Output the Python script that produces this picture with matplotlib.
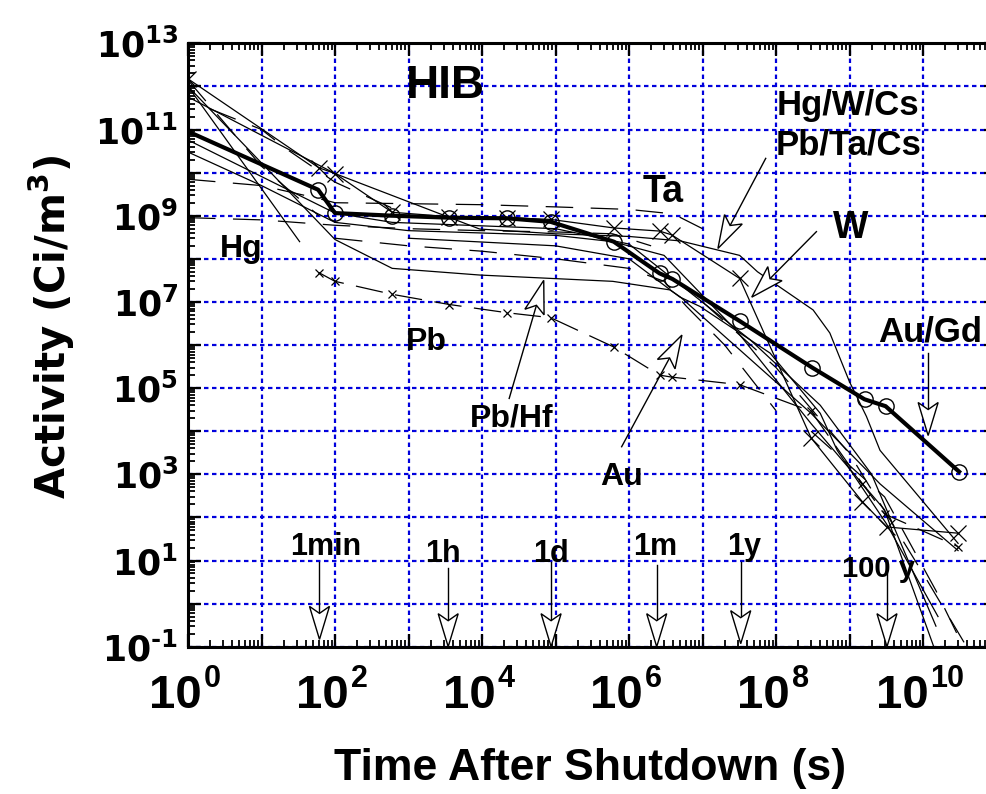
import matplotlib
matplotlib.use('Agg')
import matplotlib.pyplot as plt
from matplotlib.patches import Polygon
from matplotlib.lines import Line2D
import numpy as np

ARIAL = 'Liberation Sans'
HEAVY = 'DejaVu Sans'

plt.rcParams['mathtext.fontset'] = 'custom'
plt.rcParams['mathtext.bf'] = HEAVY + ':bold'
plt.rcParams['mathtext.rm'] = HEAVY + ':bold'

# ---------------- data ----------------
# average curve (thick, open circles)
t_avg = [1, 59, 100, 600, 3600, 2.2e4, 8.6e4, 6.2e5, 2.6e6, 3.9e6, 3.2e7, 3.1e8, 1.6e9, 3.1e9, 3.1e10]
a_avg = [9e10, 4e9, 1.15e9, 1.0e9, 9e8, 8.7e8, 7.2e8, 2.5e8, 4.6e7, 3.4e7, 3.6e6, 3.0e5, 5.5e4, 3.8e4, 1.15e3]

# thin solid curve with large x markers
t_s1 = [1, 60, 100, 600, 3600, 2.2e4, 8.6e4, 6.2e5, 2.6e6, 3.8e6, 3.2e7, 3e8, 1.5e9, 3.2e9, 3e10]
a_s1 = [1.5e12, 1.3e10, 9.5e9, 1.2e9, 9.5e8, 9e8, 8.2e8, 5.2e8, 4.4e8, 3.6e8, 3.5e7, 7e3, 2.3e2, 6e1, 4.3e1]

# Pb curve with small x markers
t_pb = [60, 100, 600, 3600, 2.2e4, 8.6e4, 6.2e5, 2.6e6, 3.8e6, 3.2e7, 3e8, 1.5e9, 3e9, 3e10]
a_pb = [4.8e7, 3e7, 1.5e7, 8.7e6, 5.6e6, 4.3e6, 9e5, 2e5, 1.8e5, 1.2e5, 2.9e4, 6e2, 1.2e2, 2.1e1]

# other thin solid curves
t_s2 = [1, 100, 9.3e3, 1e5, 1e6, 5e6, 3.2e7, 5.6e7, 3.2e8, 5.4e8, 1e9, 1.7e9, 2.6e9, 3e10]
a_s2 = [5.7e11, 9.5e9, 4.9e8, 3.8e8, 3.3e8, 2.6e8, 1.2e8, 5e7, 6.5e6, 1.9e6, 1.4e5, 2.2e4, 3.6e3, 2.5e1]
t_s3 = [1, 33]
a_s3 = [1e12, 2.5e8]
t_s4 = [1, 100, 600, 9.3e3, 6e5, 3.6e6, 5e6, 3e8, 2.6e9, 3e10]
a_s4 = [1e12, 2.8e8, 6e7, 4.2e7, 3e7, 1.9e7, 1.3e7, 2.6e4, 6e2, 1.7e1]
t_s5 = [1, 100, 600, 1e5, 1e6, 5e6, 4.5e7, 4e8, 2e9, 1.5e10]
a_s5 = [5.7e10, 1.15e9, 7e8, 5e8, 2.2e8, 2.5e7, 1.3e6, 4e4, 1e3, 3e-1]
t_s6 = [1e3, 1e5, 1e6, 4.9e6, 9.3e6, 8.3e7, 4e8, 6.8e8, 3.2e9, 1.6e10]
a_s6 = [3e8, 2e8, 1e8, 1.3e7, 7.8e6, 6.5e5, 2.6e4, 3.6e3, 7e1, 5e-1]
t_s7 = [1, 10, 100, 1e3, 1e5, 6e5, 3e6, 3e7, 3e8, 3e9, 1.4e10]
a_s7 = [3e10, 5e9, 7e8, 4.5e8, 3.5e8, 2.5e8, 1.2e8, 2e6, 1.5e4, 1.5e2, 1e-1]

# dashed curves
t_d1 = [1, 10, 60, 100, 1e3, 1e4, 1e5, 1e6, 4e6, 1e7]
a_d1 = [7e9, 5e9, 2.5e9, 2e9, 1.9e9, 1.8e9, 1.6e9, 1.4e9, 1.1e9, 5e8]
t_d2 = [1, 10, 100, 1e3, 1e4, 1e5, 6e5, 2e6]
a_d2 = [9e8, 8e8, 6e8, 5e8, 4.5e8, 4.2e8, 3.8e8, 2e8]
t_d3 = [100, 1e3, 1e4, 1e5, 1e6, 3e6, 6e6, 2e7, 1e8]
a_d3 = [3e8, 2e8, 1.5e8, 1e8, 6e7, 3e7, 8e6, 1e6, 3e4]
t_d4 = [1e7, 1e8, 1e9, 1e10, 5e10]
a_d4 = [1e7, 3e5, 3e3, 5e0, 5e-2]
t_d5 = [3e8, 3e9, 1.5e10, 5e10]
a_d5 = [1e4, 3e2, 2e0, 3e-2]
t_d6 = [1, 10, 60]
a_d6 = [1.4e12, 1.4e10, 1.0e9]
t_d7 = [2, 10, 21, 100, 600]
a_d7 = [3e11, 1e11, 3.7e10, 6e9, 1.5e9]

x_exps = [0, 2, 4, 6, 8, 10]
y_labels = ['$\\mathbf{10^{%s}}$' % (str(e) if e >= 0 else '\u2010' + str(-e))
            for e in [13, 11, 9, 7, 5, 3, 1, -1]]

# text labels (text, t, A, fontsize)
labels = [
    ('HIB', 926, 10**11.72, 33),
    ('Hg', 10**0.435, 10**8.05, 23),
    ('Pb', 10**2.97, 10**5.88, 23),
    ('Ta', 10**6.18, 10**9.32, 27),
    ('Hg/W/Cs', 10**8.01, 10**11.34, 25),
    ('Pb/Ta/Cs', 10**7.99, 10**10.41, 25),
    ('W', 10**8.78, 10**8.48, 27),
    ('Au/Gd', 10**9.39, 10**6.08, 25),
    ('Pb/Hf', 10**3.84, 10**4.12, 23),
    ('Au', 10**5.61, 10**2.75, 23),
    ('1min', 10**1.39, 10**1.13, 22),
    ('1h', 10**3.22, 10**0.965, 22),
    ('1d', 10**4.69, 10**0.965, 22),
    ('1m', 10**6.05, 10**1.13, 22),
    ('1y', 10**7.33, 10**1.13, 22),
    ('100 y', 10**8.90, 10**0.62, 21),
]
# arrows (log10 tail t, tail A, tip t, tip A)
arrows = [
    (1.789, 0.97, 1.789, -0.83),
    (3.54, 0.83, 3.54, -1.0),
    (4.94, 0.96, 4.94, -1.0),
    (6.377, 0.89, 6.377, -1.0),
    (7.52, 0.96, 7.52, -0.93),
    (9.51, 0.72, 9.51, -1.0),
    (10.07, 5.81, 10.07, 3.9),
    (7.86, 10.33, 7.21, 8.24),
    (8.55, 8.63, 7.67, 7.11),
    (4.37, 4.76, 4.84, 7.5),
    (5.90, 3.64, 6.72, 6.23),
]

# ---------------- figure ----------------
W, H = 987, 794
fig = plt.figure(figsize=(W / 100, H / 100), dpi=100)
L, R, T, B = 188, 996.5, 43.3, 646.7
ax = fig.add_axes([L / W, 1 - B / H, (R - L) / W, (B - T) / H])
ax.set_xscale('log')
ax.set_yscale('log')
ax.set_xlim(1, 1e11)
ax.set_ylim(1e-1, 1e13)

thin = 0.9
for t, a in [(t_s3, a_s3), (t_s4, a_s4), (t_s5, a_s5), (t_s6, a_s6), (t_s7, a_s7), (t_s2, a_s2)]:
    ax.plot(t, a, color='black', lw=thin)
ax.plot(t_s1, a_s1, color='black', lw=thin, marker='x', ms=11, mew=0.9)
ax.plot(t_pb, a_pb, color='black', lw=thin, marker='x', ms=5.5, mew=0.9, dashes=(22, 10))
for t, a in [(t_d1, a_d1), (t_d2, a_d2), (t_d3, a_d3), (t_d4, a_d4), (t_d5, a_d5),
             (t_d6, a_d6), (t_d7, a_d7)]:
    ax.plot(t, a, color='black', lw=thin, dashes=(22, 14))

ax.plot(t_avg, a_avg, color='black', lw=3.0, marker='o', ms=11, mfc='none',
        mew=1.0, markevery=list(range(1, len(t_avg))), solid_joinstyle='round')

# grid
ax.grid(True, which='major', color='#0000dd', linestyle=(0, (2.0, 1.6)), lw=1.6)
ax.set_axisbelow(True)

ax.set_xticks([10.0 ** e for e in range(0, 12)])
ax.set_xticklabels([])
ax.set_yticks([10.0 ** e for e in range(-1, 14)])
ax.set_yticklabels([y_labels[(13 - e) // 2] if (e % 2) else '' for e in range(-1, 14)])
ax.xaxis.set_minor_locator(matplotlib.ticker.LogLocator(base=10, subs=np.arange(2, 10), numticks=100))
ax.yaxis.set_minor_locator(matplotlib.ticker.LogLocator(base=10, subs=np.arange(2, 10), numticks=100))
ax.xaxis.set_minor_formatter(matplotlib.ticker.NullFormatter())
ax.yaxis.set_minor_formatter(matplotlib.ticker.NullFormatter())
ax.tick_params(which='both', direction='in', top=True, right=True, color='black')
ax.tick_params(which='major', length=9.5, width=1.6)
ax.tick_params(which='minor', length=5, width=1.3)
ax.tick_params(axis='y', which='major', labelsize=25, pad=7)
for s in ax.spines.values():
    s.set_linewidth(2.2)

# x tick labels: "10" plus raised exponent, roughly centred on the tick
renderer = fig.canvas.get_renderer()
base_y = -61    # baseline of "10", pixels below the axis
exp_y = -40     # baseline of exponent
for e in x_exps:
    tb = ax.annotate('10', xy=(10.0 ** e, 0), xycoords=('data', 'axes fraction'),
                     xytext=(0, base_y), textcoords='offset pixels',
                     family=ARIAL, weight='bold', fontsize=34, ha='left', va='baseline')
    te = ax.annotate(str(e), xy=(10.0 ** e, 0), xycoords=('data', 'axes fraction'),
                     xytext=(0, exp_y), textcoords='offset pixels',
                     family=ARIAL, weight='bold', fontsize=22, ha='left', va='baseline')
    wb = tb.get_window_extent(renderer).width
    we = te.get_window_extent(renderer).width
    left = -(wb + we + 2) / 2 - 3
    tb.set_position((left, base_y))
    te.set_position((left + wb + 2, exp_y))

fig.text(590 / W, 1 - 780 / H, 'Time After Shutdown (s)', family=ARIAL, weight='bold',
         fontsize=32, ha='center', va='baseline')
fig.text(52 / W, 1 - 327 / H, 'Activity (Ci/m$^{3}$)', family=HEAVY, weight='bold',
         fontsize=29, ha='center', va='center', rotation=90)

for txt, t, a, fs in labels:
    ax.text(t, a, txt, family=ARIAL, weight='bold', fontsize=fs, ha='left', va='baseline',
            zorder=5)


# hollow notched arrows
def draw_arrow(x0, y0, x1, y1, hl=33, hw=10, notch=7):
    p0 = ax.transData.transform((10 ** x0, 10 ** y0))
    p1 = ax.transData.transform((10 ** x1, 10 ** y1))
    d = p1 - p0
    u = d / np.hypot(*d)
    n = np.array([-u[1], u[0]])
    back = p1 - u * hl
    notchp = back + u * notch
    inv = ax.transData.inverted()
    line_pts = inv.transform([p0, notchp])
    ax.add_line(Line2D(line_pts[:, 0], line_pts[:, 1], color='black', lw=1.0, zorder=6))
    head = inv.transform([p1, back + n * hw, notchp, back - n * hw])
    ax.add_patch(Polygon(head, closed=True, fc='white', ec='black', lw=1.0, zorder=6))


for a_ in arrows:
    draw_arrow(*a_)

fig.savefig('out.png', dpi=100)
